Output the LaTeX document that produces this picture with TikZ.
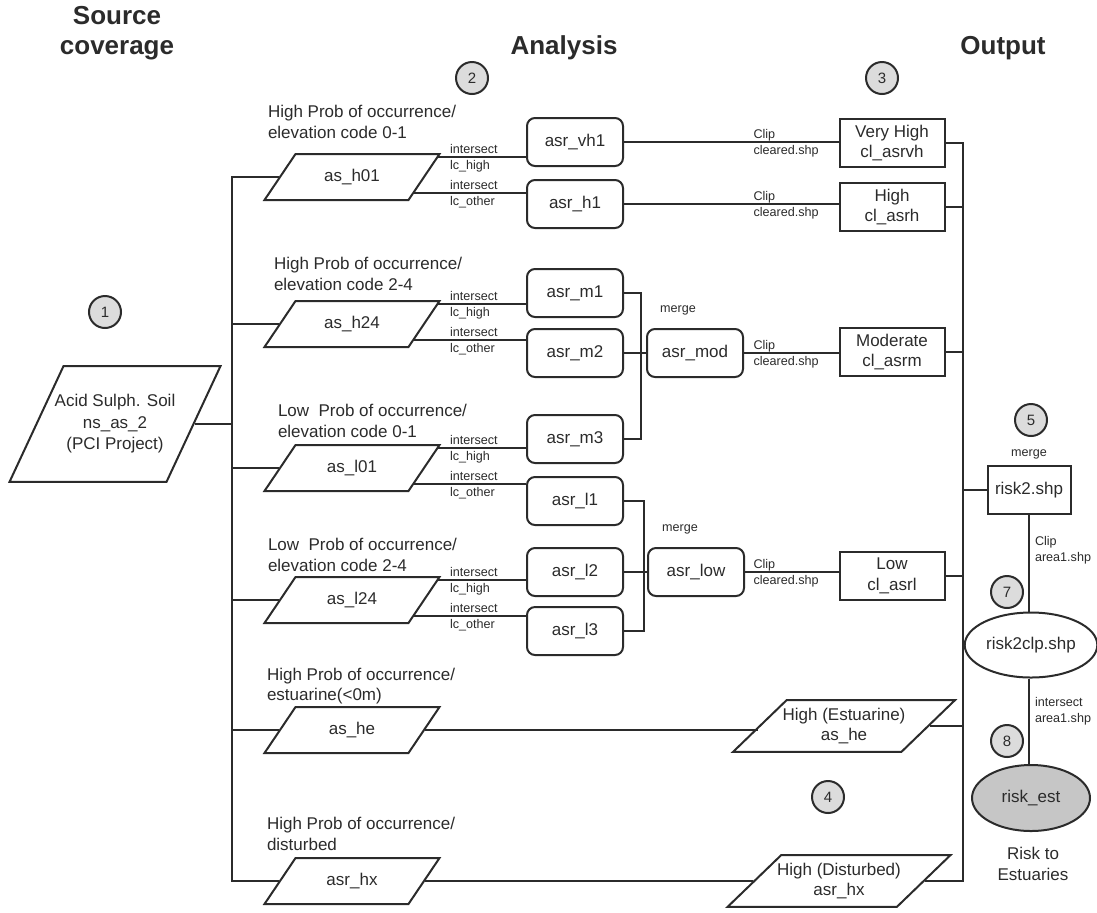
\documentclass[tikz,border=0pt]{standalone}
\usepackage{fontspec}
\setmainfont{Liberation Sans}
\usetikzlibrary{shapes.geometric,positioning,calc}
\definecolor{ink}{HTML}{2B2B2B}
\definecolor{dot}{HTML}{DCDCDC}
\definecolor{estfill}{HTML}{C6C6C6}
\begin{document}
\begin{tikzpicture}[
    x=0.5pt, y=-0.5pt, line width=1pt, color=ink,
    every node/.style={font=\fontsize{8.5}{10.2}\selectfont},
    heading/.style={font=\fontsize{13}{15}\selectfont\bfseries, align=center},
    catlbl/.style={align=left, anchor=west, inner sep=0pt},
    lbl/.style={font=\fontsize{6.3}{8}\selectfont, align=left, inner sep=0pt},
    inpar/.style={draw, trapezium, trapezium left angle=56, trapezium right angle=124, trapezium stretches body, minimum width=87.5pt, text height=6.5pt, text depth=1.8pt, inner xsep=1pt, inner ysep=7.35pt},
    proc/.style={draw, rounded corners=4pt, minimum width=48pt, minimum height=24pt},
    outbox/.style={draw, align=center, minimum width=52.5pt, minimum height=24pt, inner sep=1pt},
    outpar/.style={draw, trapezium, trapezium left angle=44, trapezium right angle=136, trapezium stretches body, minimum width=108pt, align=center, inner xsep=-2pt, inner ysep=3.9pt},
    badge/.style={draw, circle, fill=dot, minimum size=16pt, inner sep=0pt, font=\fontsize{7.5}{9}\selectfont},
    ovalnode/.style={draw, ellipse, minimum width=57pt, minimum height=32.5pt, inner sep=1pt}
  ]
  \useasboundingbox (0,0) rectangle (1097,912);

  % headings and step numbers
  \node[heading] (hsrc) at (117,33) {Source\\coverage};
  \node[heading] (hana) at (564,48) {Analysis};
  \node[heading] (hout) at (1003,48) {Output};
  \node[badge] (n1) at (105,312) {1};
  \node[badge] (n2) at (472,78) {2};
  \node[badge] (n3) at (882,78) {3};
  \node[badge] (n4) at (828,797) {4};
  \node[badge] (n5) at (1031,420) {5};
  \node[badge] (n7) at (1007,592) {7};
  \node[badge] (n8) at (1007,741) {8};

  % source coverage
  \node[inpar, minimum width=105.5pt, trapezium left angle=65, trapezium right angle=115, text height=, text depth=, inner xsep=-8pt, inner ysep=14.25pt, align=center, font=\fontsize{8.5}{10.75}\selectfont] (acid) at (115,424) {Acid Sulph. Soil\\ns\_as\_2\\(PCI Project)};

  % classes
  \node[catlbl] (cath01) at (267,122) {High Prob of occurrence/\\elevation code 0-1};
  \node[catlbl] (cath24) at (273,274) {High Prob of occurrence/\\elevation code 2-4};
  \node[catlbl] (catl01) at (277,421) {Low\ \ Prob of occurrence/\\elevation code 0-1};
  \node[catlbl] (catl24) at (267,555) {Low\ \ Prob of occurrence/\\elevation code 2-4};
  \node[catlbl] (cathe) at (266,686) {High Prob of occurrence/\\estuarine(<0m)};
  \node[catlbl] (cathx) at (266,834) {High Prob of occurrence/\\disturbed};
  \node[inpar] (ash01) at (352,177) {as\_h01};
  \node[inpar] (ash24) at (352,324) {as\_h24};
  \node[inpar] (asl01) at (352,468) {as\_l01};
  \node[inpar] (asl24) at (352,600) {as\_l24};
  \node[inpar] (ashe) at (352,730) {as\_he};
  \node[inpar] (asrhx) at (352,881) {asr\_hx};

  % analysis
  \node[proc] (asrvh1) at (575,142) {asr\_vh1};
  \node[proc] (asrh1) at (575,204) {asr\_h1};
  \node[proc] (asrm1) at (575,293) {asr\_m1};
  \node[proc] (asrm2) at (575,353) {asr\_m2};
  \node[proc] (asrm3) at (575,439) {asr\_m3};
  \node[proc] (asrl1) at (575,501) {asr\_l1};
  \node[proc] (asrl2) at (575,572) {asr\_l2};
  \node[proc] (asrl3) at (575,631) {asr\_l3};
  \node[proc] (asrmod) at (695,353) {asr\_mod};
  \node[proc] (asrlow) at (696,572) {asr\_low};
  \node[lbl, above=6pt of asrmod, xshift=-8.5pt] (mg1) {merge};
  \node[lbl, above=6pt of asrlow, xshift=-8pt] (mg2) {merge};

  % output
  \node[outbox] (clvh) at (892,143) {Very High\\cl\_asrvh};
  \node[outbox] (clh) at (892,207) {High\\cl\_asrh};
  \node[outbox] (clm) at (892,352) {Moderate\\cl\_asrm};
  \node[outbox] (cll) at (892,576) {Low\\cl\_asrl};
  \node[outpar] (hest) at (844,726) {High (Estuarine)\\as\_he};
  \node[outpar] (hdist) at (839,881) {High (Disturbed)\\asr\_hx};
  \node[outbox, minimum width=41.5pt] (risk2) at (1029,490) {risk2.shp};
  \node[lbl, above=2.5pt of risk2] (mg3) {merge};
  \node[ovalnode] (risk2clp) at (1031,645) {risk2clp.shp};
  \node[ovalnode, fill=estfill, minimum width=59pt, minimum height=33pt] (riskest) at (1031,798) {risk\_est};
  \node[align=center, font=\fontsize{8.5}{10.5}\selectfont] (riskto) at (1033,864) {Risk to\\Estuaries};

  % source bus
  \coordinate (sbx) at (232,0);
  \draw (ash01.west) -| (asrhx.west -| sbx) -- (asrhx.west);
  \foreach \n in {ash24,asl01,asl24,ashe}
    \draw (\n.west -| sbx) -- (\n.west);
  \draw (acid.east) -- (acid.east -| sbx);

  % intersections
  \foreach \n/\a/\b in {ash01/asrvh1/asrh1, ash24/asrm1/asrm2, asl01/asrm3/asrl1, asl24/asrl2/asrl3} {
    \coordinate (\n up) at ($(\n.top right corner)!0.09!(\n.bottom right corner)$);
    \coordinate (\n dn) at ($(\n.top right corner)!0.84!(\n.bottom right corner)$);
    \draw (\n up) -- (\n up -| \a.west);
    \draw (\n dn) -- (\n dn -| \b.west);
    \node[lbl, anchor=west] (\n hi) at ($(\n up -| \a.west)+(-77,1)$) {intersect\\lc\_high};
    \node[lbl, anchor=west] (\n lo) at ($(\n dn -| \b.west)+(-77,1)$) {intersect\\lc\_other};
  }

  % merges
  \draw (asrm1.east) -- ++(17,0) |- (asrm3.east);
  \draw (asrm2.east) -- (asrmod.west);
  \draw (asrl1.east) -- ++(20,0) |- (asrl3.east);
  \draw (asrl2.east) -- (asrlow.west);

  % clips
  \foreach \a/\b in {asrvh1/clvh, asrh1/clh, asrmod/clm, asrlow/cll} {
    \draw (\a.east) -- (\a.east -| \b.west);
    \node[lbl, anchor=west] (\a clip) at ($(\a.east -| \b.west)+(-86,1)$) {Clip\\cleared.shp};
  }
  \draw (ashe.east) -- (ashe.east -| hest.west);
  \draw (asrhx.east) -- (asrhx.east -| hdist.west);

  % output bus
  \coordinate (obx) at (963,0);
  \draw (clvh.east) -| (hdist.east -| obx) -- (hdist.east);
  \foreach \n in {clh,clm,cll,hest}
    \draw (\n.east) -- (\n.east -| obx);
  \draw (risk2.west -| obx) -- (risk2.west);

  % estuary risk
  \draw (risk2.south) -- (risk2.south |- risk2clp.north);
  \draw (risk2clp.south -| risk2.south) -- (risk2.south |- riskest.north);
  \node[lbl, anchor=west] (clip2) at (1034,550) {Clip\\area1.shp};
  \node[lbl, anchor=west] (isect2) at (1034,711) {intersect\\area1.shp};
\end{tikzpicture}
\end{document}
